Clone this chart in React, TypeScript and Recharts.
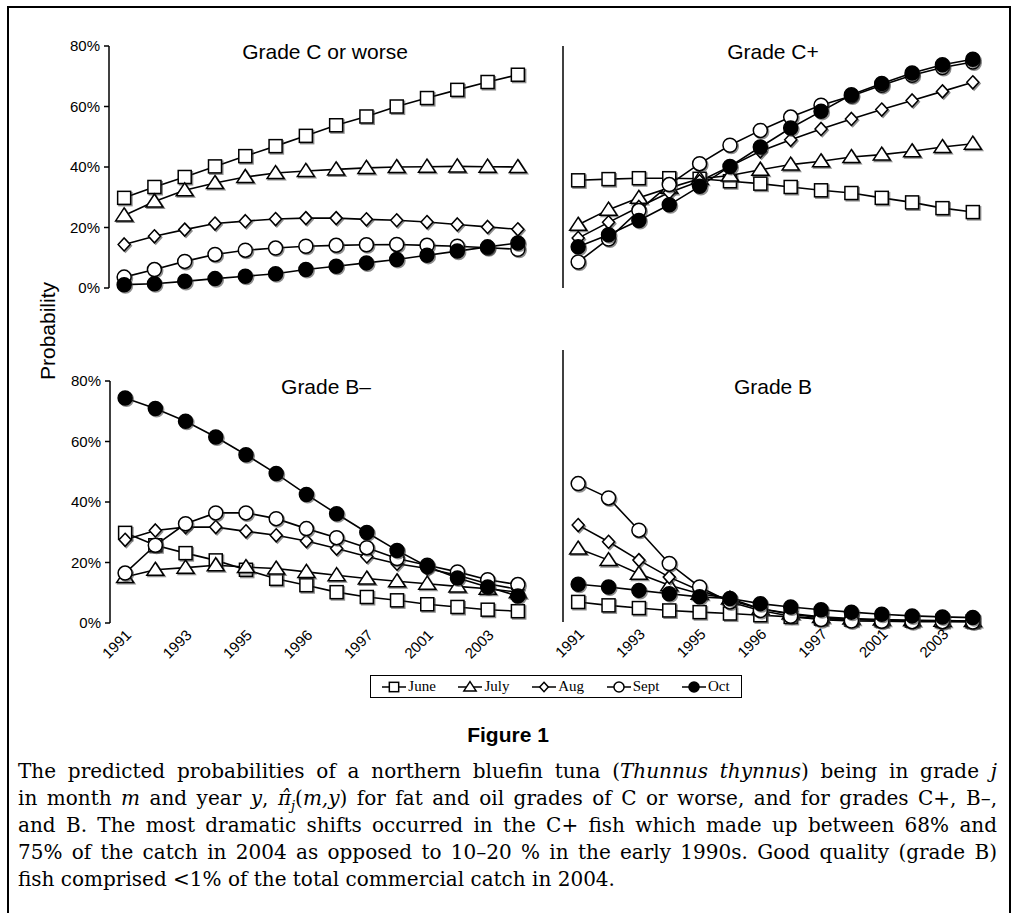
import React from 'react';
import { LineChart, Line, XAxis, YAxis } from 'recharts';

const months = ['June', 'July', 'Aug', 'Sept', 'Oct'];
const shapes = ['square', 'triangle', 'diamond', 'circle', 'circle'];
const filled = [false, false, false, false, true];
const yearLabels = ['1991', '1993', '1995', '1996', '1997', '2001', '2003'];
const yTicks = [0, 0.2, 0.4, 0.6, 0.8];

// Grade C or worse (%)
const cwJune = [29.8, 33.4, 36.7, 40.2, 43.6, 46.9, 50.3, 53.8, 56.7, 60.0, 62.8, 65.5, 68.1, 70.5];
const cwJuly = [24.0, 28.6, 32.3, 34.7, 36.7, 38.0, 38.7, 39.2, 39.7, 40.0, 40.1, 40.2, 40.1, 40.0];
const cwAug = [14.4, 17.1, 19.3, 21.3, 22.1, 22.8, 23.1, 23.1, 22.7, 22.4, 21.8, 21.0, 20.2, 19.4];
const cwSept = [3.6, 6.1, 8.8, 11.1, 12.5, 13.2, 13.8, 14.1, 14.3, 14.4, 14.1, 13.8, 13.3, 12.8];
const cwOct = [1.1, 1.4, 2.2, 3.1, 3.9, 4.7, 6.1, 7.2, 8.3, 9.4, 10.8, 12.2, 13.6, 14.9];

// Grade C+ (%)
const cpJune = [35.6, 36.0, 36.3, 36.3, 36.1, 35.3, 34.5, 33.4, 32.3, 31.4, 29.8, 28.3, 26.4, 25.1];
const cpJuly = [20.9, 25.9, 29.8, 33.1, 36.1, 37.2, 39.1, 40.8, 41.9, 43.3, 44.1, 45.2, 46.6, 47.7];
const cpAug = [16.5, 21.7, 26.8, 31.6, 35.3, 40.2, 45.2, 49.0, 52.6, 55.9, 59.0, 62.0, 65.0, 68.0];
const cpSept = [8.6, 16.2, 25.6, 34.2, 41.1, 47.2, 52.1, 56.5, 60.4, 63.5, 67.0, 70.3, 72.9, 74.7];
const cpOct = [13.6, 17.6, 22.3, 27.5, 33.6, 40.2, 46.6, 52.9, 58.4, 63.9, 67.6, 71.1, 73.8, 75.6];

// Grade B- (%)
const bmJune = [29.8, 25.7, 23.1, 20.7, 17.6, 14.6, 12.5, 10.2, 8.6, 7.5, 6.2, 5.3, 4.4, 3.9];
const bmJuly = [15.2, 17.6, 18.3, 19.1, 18.5, 18.0, 16.9, 15.8, 14.7, 13.8, 13.0, 12.1, 11.3, 10.2];
const bmAug = [27.5, 30.6, 31.7, 31.7, 30.3, 29.0, 27.1, 24.6, 22.0, 19.6, 18.0, 15.8, 13.0, 11.1];
const bmSept = [16.5, 25.7, 32.8, 36.4, 36.4, 34.5, 31.2, 28.2, 24.9, 21.3, 19.1, 16.9, 14.3, 12.7];
const bmOct = [74.4, 70.9, 66.7, 61.5, 55.6, 49.4, 42.5, 36.1, 29.9, 24.0, 18.7, 14.9, 11.9, 8.9];

// Grade B (%)
const bJune = [5.9, 4.9, 4.1, 3.4, 2.9, 2.5, 2.0, 1.5, 1.0, 0.7, 0.5, 0.4, 0.3, 0.2];
const bJuly = [21.6, 18.2, 14.2, 10.8, 8.3, 6.9, 3.9, 2.5, 1.5, 1.0, 0.7, 0.5, 0.4, 0.3];
const bAug = [28.5, 23.6, 18.2, 13.2, 9.3, 6.4, 3.9, 2.3, 1.3, 0.8, 0.5, 0.3, 0.2, 0.2];
const bSept = [40.7, 36.5, 27.0, 17.2, 10.3, 5.9, 3.4, 1.7, 0.7, 0.3, 0.2, 0.1, 0.1, 0.0];
const bOct = [11.1, 10.3, 9.3, 8.3, 7.4, 6.9, 5.4, 4.4, 3.6, 2.9, 2.3, 1.8, 1.5, 1.3];

const panels = [
  { title: 'Grade C or worse', series: [cwJune, cwJuly, cwAug, cwSept, cwOct], left: 109, top: 46, w: 424, h: 242, yLabels: true, xLabels: false, titleX: 325, titleY: 59 },
  { title: 'Grade C+', series: [cpJune, cpJuly, cpAug, cpSept, cpOct], left: 563, top: 46, w: 425, h: 242, yLabels: false, xLabels: false, titleX: 773, titleY: 59 },
  { title: 'Grade B\u2013', series: [bmJune, bmJuly, bmAug, bmSept, bmOct], left: 110, top: 381, w: 423, h: 242, yLabels: true, xLabels: true, titleX: 326, titleY: 394 },
  { title: 'Grade B', series: [bJune, bJuly, bAug, bSept, bOct], left: 563, top: 350, w: 425, h: 272, yLabels: false, xLabels: true, titleX: 773, titleY: 394 },
];

const SANS = '"Liberation Sans", Arial, Helvetica, sans-serif';
const SERIF = '"DejaVu Serif", serif';

const gridTicks = Array.from({ length: 15 }, (_, i) => i);
const labelTicks = yearLabels.map((_, i) => i * 2 + 0.5);

function Marker({ cx, cy, shape, fill, k = 1, shadow = true }: any) {
  const draw = (dx: number, dy: number, f: string, s: string) => {
    const x = cx + dx;
    const y = cy + dy;
    if (shape === 'square') {
      return <rect x={x - 6.5 * k} y={y - 6.5 * k} width={13 * k} height={13 * k} fill={f} stroke={s} strokeWidth={1.5} />;
    }
    if (shape === 'circle') {
      return <circle cx={x} cy={y} r={7 * k} fill={f} stroke={s} strokeWidth={1.5} />;
    }
    if (shape === 'triangle') {
      const pts = `${x},${y - 7.5 * k} ${x + 8.5 * k},${y + 5.5 * k} ${x - 8.5 * k},${y + 5.5 * k}`;
      return <polygon points={pts} fill={f} stroke={s} strokeWidth={1.5} strokeLinejoin="miter" />;
    }
    const pts = `${x},${y - 6.5 * k} ${x + 6 * k},${y} ${x},${y + 6.5 * k} ${x - 6 * k},${y}`;
    return <polygon points={pts} fill={f} stroke={s} strokeWidth={1.5} />;
  };
  return (
    <g>
      {shadow && <g opacity={0.55}>{draw(1.3, 1.3, '#333', '#333')}</g>}
      {draw(0, 0, fill, '#000')}
    </g>
  );
}

function YearTick(props: any) {
  const { x, y, payload } = props;
  const label = yearLabels[Math.round((payload.value - 0.5) / 2)];
  const ax = x + 7;
  const ay = y + 13;
  return (
    <text x={ax} y={ay} transform={`rotate(-45 ${ax} ${ay})`} textAnchor="end" fontSize={15} fontFamily={SANS} fill="#000">
      {label}
    </text>
  );
}

function Panel({ cfg }: any) {
  const rows = cfg.series[0].map((_: number, i: number) => {
    const r: any = { x: i + 0.5 };
    months.forEach((m, k) => {
      r[m] = cfg.series[k][i] / 100;
    });
    return r;
  });
  const yW = 70;
  const mTop = 20;
  const mRight = 12;
  const bottomH = cfg.xLabels ? 50 : 12;
  return (
    <div style={{ position: 'absolute', left: cfg.left - yW, top: cfg.top - mTop }}>
      <LineChart
        width={yW + cfg.w + mRight}
        height={mTop + cfg.h + bottomH}
        data={rows}
        margin={{ top: mTop, right: mRight, left: 0, bottom: cfg.xLabels ? 0 : bottomH }}
      >
        <XAxis
          xAxisId="grid"
          type="number"
          dataKey="x"
          domain={[0, 14]}
          ticks={gridTicks}
          interval={0}
          tick={false}
          height={0}
          tickSize={5}
          stroke="#000"
          strokeWidth={1.5}
        />
        {cfg.xLabels && (
          <XAxis
            xAxisId="lab"
            type="number"
            dataKey="x"
            domain={[0, 14]}
            ticks={labelTicks}
            interval={0}
            axisLine={false}
            tickLine={false}
            tickSize={0}
            tickMargin={0}
            height={bottomH}
            tick={<YearTick />}
          />
        )}
        <YAxis
          type="number"
          domain={[0, 0.8]}
          ticks={yTicks}
          interval={0}
          width={yW}
          tickSize={5}
          tickMargin={4}
          stroke="#000"
          strokeWidth={1.5}
          tickFormatter={(v: number) => `${Math.round(v * 100)}%`}
          tick={cfg.yLabels ? { fontSize: 15, fill: '#000', fontFamily: SANS } : false}
        />
        {months.map((m, k) => (
          <Line
            key={m}
            xAxisId="grid"
            dataKey={m}
            type="linear"
            stroke="#000"
            strokeWidth={1.6}
            isAnimationActive={false}
            activeDot={false}
            dot={(p: any) => (
              <g key={`${m}-${p.index}`}>
                <Marker cx={p.cx} cy={p.cy} shape={shapes[k]} fill={filled[k] ? '#000' : '#fff'} />
              </g>
            )}
          />
        ))}
      </LineChart>
    </div>
  );
}

function LegendItem({ k }: { k: number }) {
  return (
    <span style={{ display: 'inline-flex', alignItems: 'center' }}>
      <svg width={24} height={14}>
        <line x1={0} y1={7} x2={24} y2={7} stroke="#000" strokeWidth={1.5} />
        <Marker cx={12} cy={7} shape={shapes[k]} fill={filled[k] ? '#000' : '#fff'} k={0.72} shadow={false} />
      </svg>
      <span style={{ marginLeft: 2 }}>{months[k]}</span>
    </span>
  );
}

const lineStyle: React.CSSProperties = {
  height: 27,
  lineHeight: '27px',
  textAlign: 'justify',
  textAlignLast: 'justify',
  whiteSpace: 'nowrap',
};

export default function App() {
  return (
    <div style={{ position: 'absolute', left: 0, top: 0, width: 1017, height: 915, background: '#fff', overflow: 'hidden' }}>
      <div style={{ position: 'absolute', left: 7, top: 6, width: 1000, height: 905, borderLeft: '2px solid #000', borderTop: '2px solid #000', borderRight: '2px solid #000' }} />
      {panels.map((p) => (
        <Panel key={p.title} cfg={p} />
      ))}
      <svg width={1017} height={915} style={{ position: 'absolute', left: 0, top: 0, pointerEvents: 'none' }}>
        {panels.map((p) => (
          <text key={p.title} x={p.titleX} y={p.titleY} textAnchor="middle" fontSize={21} fontFamily={SANS} fill="#000">
            {p.title}
          </text>
        ))}
        <text x={55} y={331} transform="rotate(-90 55 331)" textAnchor="middle" fontSize={21} fontFamily={SANS} fill="#000">
          Probability
        </text>
        <text x={508} y={742} textAnchor="middle" fontSize={21} fontWeight="bold" fontFamily={SANS} fill="#000">
          Figure 1
        </text>
      </svg>
      <div
        style={{
          position: 'absolute',
          left: 370,
          top: 675,
          width: 372,
          height: 23,
          border: '1.5px solid #000',
          display: 'flex',
          alignItems: 'center',
          justifyContent: 'space-around',
          fontFamily: '"Liberation Serif", "Times New Roman", serif',
          fontSize: 15,
          boxSizing: 'border-box',
        }}
      >
        {months.map((_, k) => (
          <LegendItem key={k} k={k} />
        ))}
      </div>
      <div style={{ position: 'absolute', left: 18, top: 758, width: 979, fontFamily: SERIF, fontSize: 20, color: '#000' }}>
        <div style={lineStyle}>
          The predicted probabilities of a northern bluefin tuna (<i>Thunnus thynnus</i>) being in grade <i>j</i>
        </div>
        <div style={lineStyle}>
          in month <i>m</i> and year <i>y</i>, <i>{'\u03C0\u0302'}</i>
          <sub style={{ fontSize: 13 }}>
            <i>j</i>
          </sub>
          (<i>m,y</i>) for fat and oil grades of C or worse, and for grades C+, B{'\u2013'},
        </div>
        <div style={lineStyle}>and B. The most dramatic shifts occurred in the C+ fish which made up between 68% and</div>
        <div style={lineStyle}>75% of the catch in 2004 as opposed to 10{'\u2013'}20 % in the early 1990s. Good quality (grade B)</div>
        <div style={{ ...lineStyle, textAlign: 'left', textAlignLast: 'left' }}>fish comprised &lt;1% of the total commercial catch in 2004.</div>
      </div>
    </div>
  );
}
